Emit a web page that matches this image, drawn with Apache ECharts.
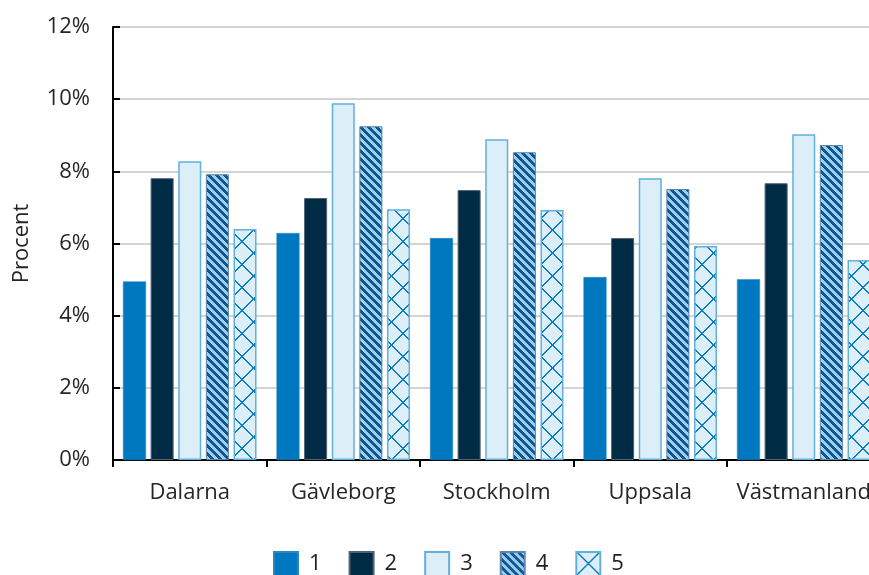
<!DOCTYPE html>
<html>
<head>
<meta charset="utf-8">
<script src="https://cdn.jsdelivr.net/npm/echarts@6/dist/echarts.min.js"></script>
<style>
html,body{margin:0;padding:0;background:#fff;overflow:hidden;width:869px;height:575px;}
#chart{width:881px;height:575px;}
</style>
</head>
<body>
<div id="chart"></div>
<script>
var categories = ['Dalarna', 'Gävleborg', 'Stockholm', 'Uppsala', 'Västmanland'];
var seriesNames = ['1', '2', '3', '4', '5'];
var s1 = [4.95, 6.29, 6.15, 5.07, 5.01];
var s2 = [7.81, 7.26, 7.48, 6.15, 7.67];
var s3 = [8.28, 9.89, 8.89, 7.81, 9.03];
var s4 = [7.92, 9.25, 8.53, 7.51, 8.73];
var s5 = [6.40, 6.95, 6.93, 5.93, 5.54];
var yTicks = [0, 2, 4, 6, 8, 10, 12];

function makeStripes() {
  var n = 8;
  var c = document.createElement('canvas');
  c.width = n; c.height = n;
  var ctx = c.getContext('2d');
  for (var y = 0; y < n; y++) {
    for (var x = 0; x < n; x++) {
      var d = ((x - y) % n + n) % n;
      ctx.fillStyle = d < 4 ? '#005a9c' : '#a8cbe3';
      ctx.fillRect(x, y, 1, 1);
    }
  }
  return c;
}
function makeCross() {
  var n = 23;
  var c = document.createElement('canvas');
  c.width = n; c.height = n;
  var ctx = c.getContext('2d');
  ctx.fillStyle = '#dceef7';
  ctx.fillRect(0, 0, n, n);
  ctx.fillStyle = '#0a7cc2';
  for (var y = 0; y < n; y++) {
    for (var x = 0; x < n; x++) {
      var a = ((x - y) % n + n) % n;
      var b = ((x + y) % n + n) % n;
      if (a === 0 || a === 1 || b === n - 1 || b === 0) {
        ctx.fillRect(x, y, 1, 1);
      }
    }
  }
  return c;
}

var stripePattern = { image: makeStripes(), repeat: 'repeat' };
var crossPattern = { image: makeCross(), repeat: 'repeat' };

var styles = [
  { color: '#0078bf', borderColor: '#2a86c4', borderWidth: 0.5 },
  { color: '#002b45', borderColor: '#4d6273', borderWidth: 1 },
  { color: '#dceef7', borderColor: '#62b0de', borderWidth: 1.5 },
  { color: stripePattern, borderColor: '#5f86a8', borderWidth: 1 },
  { color: crossPattern, borderColor: '#62b0de', borderWidth: 1.5 }
];
var data = [s1, s2, s3, s4, s5];

var FONT = '"Open Sans", "Noto Sans", sans-serif';
var series = data.map(function (d, i) {
  return {
    name: seriesNames[i],
    type: 'bar',
    data: d,
    barGap: '20%',
    barCategoryGap: '13%',
    itemStyle: styles[i],
    emphasis: { disabled: true }
  };
});

var chart = echarts.init(document.getElementById('chart'), null, { renderer: 'canvas' });
chart.setOption({
  animation: false,
  backgroundColor: '#ffffff',
  grid: { left: 113, top: 27, bottom: 115, right: 0.5, containLabel: false },
  legend: {
    left: 268,
    top: 546,
    itemWidth: 24,
    itemHeight: 24,
    itemGap: 27,
    icon: 'rect',
    textStyle: { fontFamily: FONT, fontSize: 22, color: '#222', padding: [0, 0, 0, 6] },
    data: seriesNames
  },
  xAxis: {
    type: 'category',
    data: categories,
    axisLine: { lineStyle: { color: '#000', width: 2 } },
    axisTick: { show: true, length: 7, lineStyle: { color: '#000', width: 2 } },
    axisLabel: { interval: 0, fontFamily: FONT, fontSize: 22, color: '#262626', margin: 22 }
  },
  yAxis: {
    type: 'value',
    min: yTicks[0],
    max: yTicks[yTicks.length - 1],
    interval: 2,
    name: 'Procent',
    nameLocation: 'middle',
    nameGap: 80,
    nameTextStyle: { fontFamily: FONT, fontSize: 22, color: '#262626' },
    axisLine: { show: true, lineStyle: { color: '#000', width: 2 } },
    axisTick: { show: true, inside: true, length: 7, lineStyle: { color: '#000', width: 2 } },
    splitLine: { show: true, lineStyle: { color: '#c6c6c6', width: 1.5 } },
    axisLabel: { fontFamily: FONT, fontSize: 22, color: '#262626', margin: 23, formatter: '{value}%' }
  },
  series: series
});
</script>
</body>
</html>
